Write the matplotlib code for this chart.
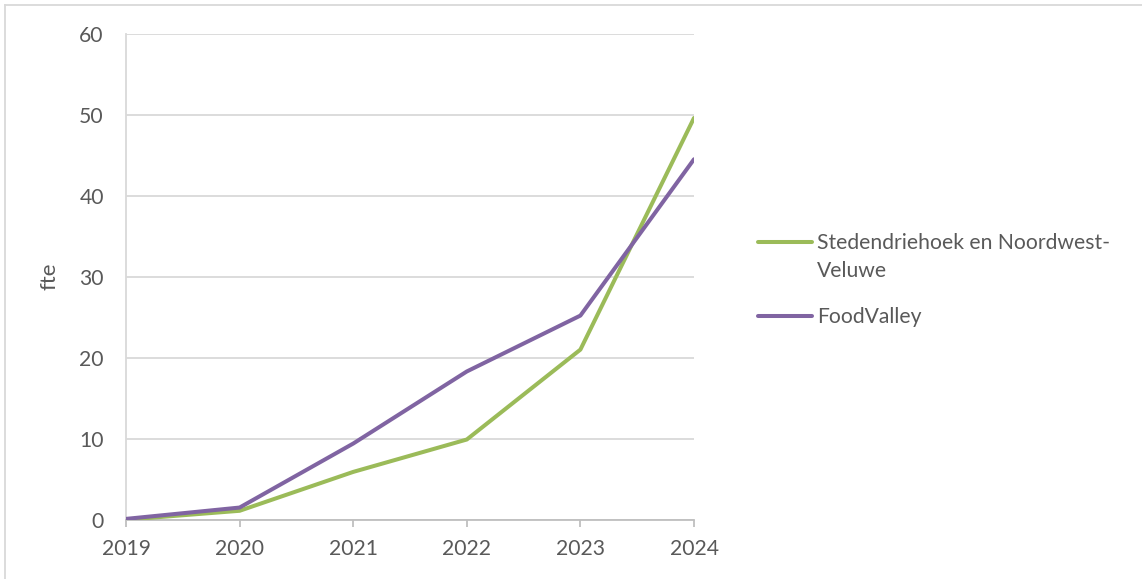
import matplotlib
matplotlib.use("Agg")
import matplotlib.pyplot as plt
from matplotlib.lines import Line2D

years = [2019, 2020, 2021, 2022, 2023, 2024]
stedendriehoek = [0.0, 1.1, 5.9, 9.9, 21.0, 49.6]
foodvalley = [0.1, 1.5, 9.4, 18.3, 25.2, 44.5]
series_labels = ["Stedendriehoek en Noordwest-\nVeluwe", "FoodValley"]
y_ticks = [0, 10, 20, 30, 40, 50, 60]

plt.rcParams['font.family'] = ['Lato', 'DejaVu Sans']
txt = '#595959'
green = '#9BBB59'
purple = '#8064A2'
colors = [green, purple]
fs = 15.2
W, H = 1142, 579

fig = plt.figure(figsize=(W/100, H/100), dpi=100)
ax = fig.add_axes([126/W, 1-519.7/H, (694-126)/W, (519.7-33.7)/H])

ax.plot(years, stedendriehoek, color=green, lw=2.9, solid_capstyle='round', zorder=3, label=series_labels[0])
ax.plot(years, foodvalley, color=purple, lw=2.9, solid_capstyle='round', zorder=3, label=series_labels[1])

ax.set_xlim(years[0], years[-1])
ax.set_ylim(0, 60)
ax.set_yticks(y_ticks)
ax.set_xticks(years)
ax.grid(axis='y', color='#D9D9D9', lw=1.3)
ax.set_axisbelow(True)
for s in ['top', 'right']:
    ax.spines[s].set_visible(False)
ax.spines['left'].set_color('#D9D9D9')
ax.spines['left'].set_linewidth(1.3)
ax.spines['bottom'].set_color('#BFBFBF')
ax.spines['bottom'].set_linewidth(1.3)
ax.tick_params(axis='y', length=0, pad=16, labelsize=fs, labelcolor=txt)
ax.tick_params(axis='x', length=5, width=1.3, color='#BFBFBF', pad=9, labelsize=fs, labelcolor=txt, direction='out')
ax.set_ylabel('fte', fontsize=16, color=txt, labelpad=14)

# legend drawn manually so the key line sits on the first text line
legend_y = [242, 316]
for lab, col, yy in zip(series_labels, colors, legend_y):
    fig.add_artist(Line2D([758/W, 812/W], [1-yy/H, 1-yy/H], color=col, lw=2.9,
                          solid_capstyle='round', transform=fig.transFigure))
    fig.text(817/W, 1-(yy-9)/H, lab, fontsize=fs, color=txt, va='top', ha='left', linespacing=1.52)

# outer frame (left and top visible)
fig.add_artist(Line2D([5/W, 5/W], [0, 1-5/H], color='#D9D9D9', lw=1.3, transform=fig.transFigure))
fig.add_artist(Line2D([5/W, 1], [1-5/H, 1-5/H], color='#D9D9D9', lw=1.3, transform=fig.transFigure))

fig.savefig('out.png', dpi=100)
